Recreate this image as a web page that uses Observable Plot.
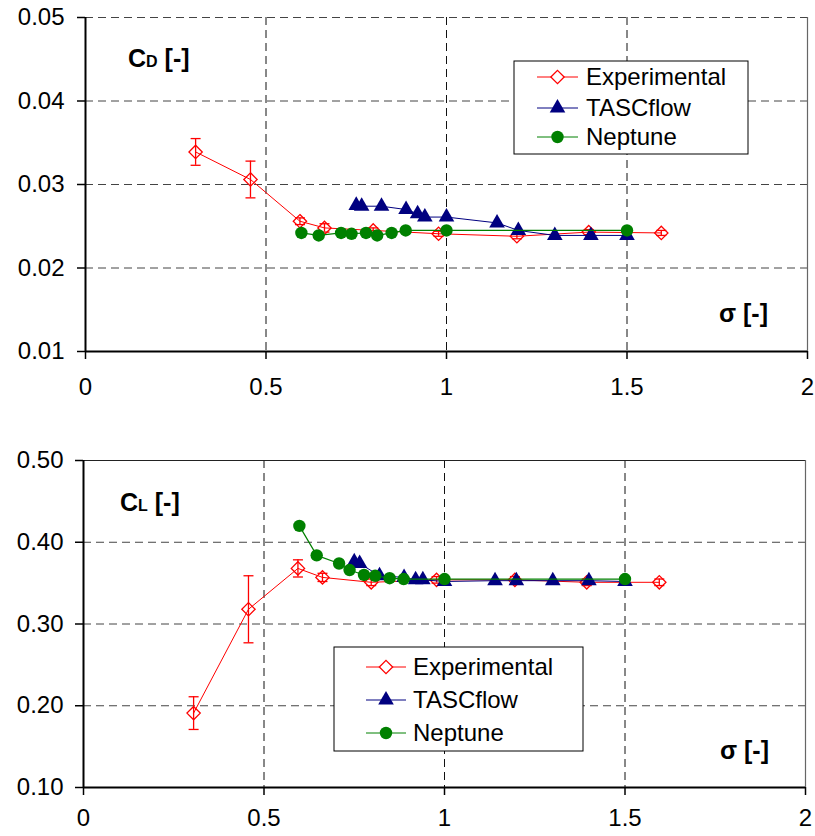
<!DOCTYPE html>
<html>
<head>
<meta charset="utf-8">
<script src="https://cdn.jsdelivr.net/npm/d3@7"></script>
<script src="https://cdn.jsdelivr.net/npm/@observablehq/plot@0.6"></script>
<style>
  html, body { margin: 0; padding: 0; background: #fff; }
  #charts { width: 815px; }
  #charts svg { display: block; }
</style>
</head>
<body>
<div id="charts"></div>
<script>
// ---------- data ----------
const seriesNames = ["Experimental", "TASCflow", "Neptune"];
const xTicks = [0, 0.5, 1, 1.5, 2];
const cdTicks = [0.01, 0.02, 0.03, 0.04, 0.05];
const clTicks = [0.10, 0.20, 0.30, 0.40, 0.50];

const expSigma = [0.305, 0.457, 0.594, 0.662, 0.797, 0.978, 1.195, 1.394, 1.595];
const expCD    = [0.0339, 0.0306, 0.0256, 0.0248, 0.0245, 0.0241, 0.0238, 0.0243, 0.0242];
const expCDerr = [0.0016, 0.0022, 0.0004, 0.0005, 0.0003, 0.0003, 0.0003, 0.0003, 0.0003];
const expCL    = [0.191, 0.318, 0.368, 0.357, 0.351, 0.354, 0.354, 0.351, 0.351];
const expCLerr = [0.020, 0.041, 0.0105, 0.005, 0.004, 0.004, 0.004, 0.004, 0.004];

const tascSigma = [0.750, 0.765, 0.820, 0.888, 0.920, 0.940, 1.000, 1.140, 1.199, 1.300, 1.400, 1.500];
const tascCD    = [0.0275, 0.0274, 0.0274, 0.0270, 0.0265, 0.0261, 0.0261, 0.0254, 0.0245, 0.0239, 0.0239, 0.0239];
const tascCL    = [0.376, 0.374, 0.359, 0.357, 0.354, 0.354, 0.352, 0.353, 0.353, 0.353, 0.353, 0.352];

const nepSigma = [0.598, 0.646, 0.708, 0.737, 0.777, 0.808, 0.848, 0.887, 1.000, 1.500];
const nepCD    = [0.0242, 0.0239, 0.0242, 0.0241, 0.0242, 0.0239, 0.0242, 0.0245, 0.0245, 0.0245];
const nepCL    = [0.420, 0.384, 0.374, 0.366, 0.360, 0.359, 0.356, 0.355, 0.355, 0.355];

// ---------- styles ----------
const FONT = "'Liberation Sans', Arial, Helvetica, sans-serif";
const RED = "#ff0000", NAVY = "#000080", GREEN = "#008000";
const capSymbol = { draw(ctx) { ctx.moveTo(-5, 0); ctx.lineTo(5, 0); } };

function buildChart(cfg) {
  const exp = expSigma.map((s, i) => ({x: s, y: cfg.exp[i], e: cfg.err[i]}));
  const tasc = tascSigma.map((s, i) => ({x: s, y: cfg.tasc[i]}));
  const nep = nepSigma.map((s, i) => ({x: s, y: cfg.nep[i]}));
  const [y0, y1] = cfg.yDomain;
  const svg = Plot.plot({
    width: 815,
    height: cfg.height,
    marginTop: cfg.marginTop,
    marginBottom: cfg.marginBottom,
    marginLeft: cfg.marginLeft,
    marginRight: cfg.marginRight,
    style: {fontSize: "24px", fontFamily: FONT, background: "#fff", color: "#000", overflow: "visible"},
    x: {domain: [0, 2]},
    y: {domain: cfg.yDomain},
    marks: [
      // grid
      Plot.ruleX(xTicks.filter(t => t > 0 && t < 2), {stroke: "#111", strokeDasharray: "8,5", strokeWidth: 1}),
      Plot.ruleY(cfg.yTicks.filter(t => t > y0 && (cfg.topDashed ? true : t < y1)), {stroke: "#444", strokeDasharray: "8,5", strokeWidth: 1}),
      cfg.topDashed ? null : Plot.ruleY([y1], {stroke: "#222", strokeWidth: 1}),
      Plot.ruleX([2], {stroke: "#666", strokeWidth: 1.2}),
      // axes
      Plot.axisX({ticks: xTicks, tickFormat: d3.format("~g"), tickSize: 8, tickPadding: cfg.xPad, label: null, strokeWidth: 1.5}),
      Plot.axisY({ticks: cfg.yTicks, tickFormat: cfg.yFormat, tickSize: 8, tickPadding: cfg.yPad, label: null, strokeWidth: 1.5}),
      Plot.ruleX([0], {stroke: "#000", strokeWidth: 2}),
      Plot.ruleY([y0], {stroke: "#000", strokeWidth: 2}),
      // Experimental
      Plot.line(exp, {x: "x", y: "y", stroke: RED, strokeWidth: 1}),
      Plot.ruleX(exp, {x: "x", y1: d => d.y - d.e, y2: d => d.y + d.e, stroke: RED, strokeWidth: 1.3}),
      Plot.dot(exp, {x: "x", y: d => d.y + d.e, symbol: capSymbol, stroke: RED, strokeWidth: 1.3, r: 5}),
      Plot.dot(exp, {x: "x", y: d => d.y - d.e, symbol: capSymbol, stroke: RED, strokeWidth: 1.3, r: 5}),
      Plot.dot(exp, {x: "x", y: "y", symbol: "diamond2", r: 6, stroke: RED, fill: "none", strokeWidth: 1.3}),
      // TASCflow
      Plot.line(tasc, {x: "x", y: "y", stroke: NAVY, strokeWidth: 1}),
      Plot.dot(tasc, {x: "x", y: "y", symbol: "triangle", r: 5.8, fill: NAVY, stroke: "none"}),
      // Neptune
      Plot.line(nep, {x: "x", y: "y", stroke: GREEN, strokeWidth: 1.2}),
      Plot.dot(nep, {x: "x", y: "y", symbol: "circle", r: 6.2, fill: GREEN, stroke: "none"})
    ]
  });

  const s = d3.select(svg);
  // coefficient label
  const t = s.append("text").attr("x", cfg.coefPos[0]).attr("y", cfg.coefPos[1])
    .attr("text-anchor", "start")
    .attr("font-family", FONT).attr("font-weight", "bold").attr("font-size", 25).attr("fill", "#000");
  t.append("tspan").text("C");
  t.append("tspan").attr("font-size", 16).text(cfg.sub);
  t.append("tspan").text(" [-]");
  // sigma label
  s.append("text").attr("x", cfg.sigmaPos[0]).attr("y", cfg.sigmaPos[1])
    .attr("text-anchor", "start")
    .attr("font-family", FONT).attr("font-weight", "bold").attr("font-size", 25).attr("fill", "#000")
    .text("σ [-]");
  // legend
  const [lx, ly, lw, lh] = cfg.legend;
  const g = s.append("g").attr("text-anchor", "start");
  g.append("rect").attr("x", lx).attr("y", ly).attr("width", lw).attr("height", lh)
    .attr("fill", "#fff").attr("stroke", "#000").attr("stroke-width", 1);
  const styles = [
    {c: RED, sym: d3.symbolDiamond2, fill: "#fff", stroke: RED, r: 6},
    {c: NAVY, sym: d3.symbolTriangle, fill: NAVY, stroke: "none", r: 5.8},
    {c: GREEN, sym: d3.symbolCircle, fill: GREEN, stroke: "none", r: 6.2}
  ];
  seriesNames.forEach((name, i) => {
    const cy = cfg.legendRows[i];
    const st = styles[i];
    g.append("line").attr("x1", cfg.legendLine[0]).attr("x2", cfg.legendLine[1])
      .attr("y1", cy).attr("y2", cy).attr("stroke", st.c).attr("stroke-width", 1);
    g.append("path").attr("transform", `translate(${(cfg.legendLine[0] + cfg.legendLine[1]) / 2},${cy})`)
      .attr("d", d3.symbol(st.sym, Math.PI * st.r * st.r)())
      .attr("fill", st.fill).attr("stroke", st.stroke).attr("stroke-width", 1.3);
    g.append("text").attr("x", cfg.legendText).attr("y", cy).attr("dy", "0.35em")
      .attr("text-anchor", "start")
      .attr("font-family", FONT).attr("font-size", 24).attr("fill", "#000").text(name);
  });
  return svg;
}

const root = document.getElementById("charts");
root.appendChild(buildChart({
  exp: expCD, err: expCDerr, tasc: tascCD, nep: nepCD,
  yDomain: [0.01, 0.05], yTicks: cdTicks, yFormat: d3.format(".2f"), topDashed: true,
  height: 420, marginTop: 17, marginBottom: 69, marginLeft: 85, marginRight: 8,
  xPad: 18, yPad: 13,
  sub: "D", coefPos: [128, 67], sigmaPos: [719, 322],
  legend: [514, 61, 234, 93], legendLine: [537, 578], legendText: 586, legendRows: [77, 108, 137]
}));
root.appendChild(buildChart({
  exp: expCL, err: expCLerr, tasc: tascCL, nep: nepCL,
  yDomain: [0.10, 0.50], yTicks: clTicks, yFormat: d3.format(".2f"), topDashed: false,
  height: 416, marginTop: 40, marginBottom: 49, marginLeft: 83, marginRight: 10,
  xPad: 13, yPad: 12,
  sub: "L", coefPos: [120, 91], sigmaPos: [720, 339],
  legend: [334, 227, 249, 104], legendLine: [366, 406], legendText: 413, legendRows: [247, 280, 313]
}));
</script>
</body>
</html>
